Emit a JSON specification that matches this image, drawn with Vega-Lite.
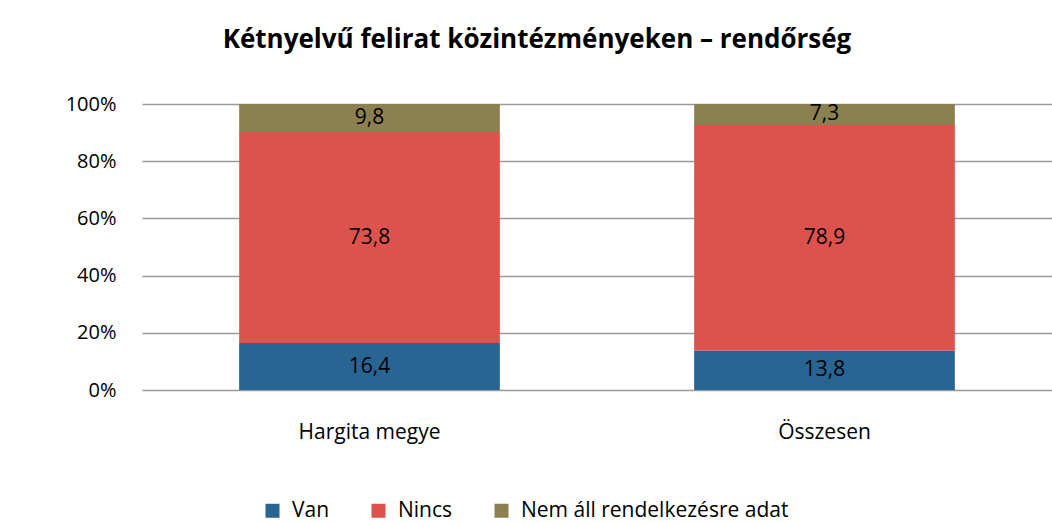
{
  "$schema": "https://vega.github.io/schema/vega-lite/v6.json",
  "width": 910,
  "height": 286,
  "autosize": {"type": "none"},
  "padding": {"left": 142, "top": 104, "right": 0, "bottom": 133},
  "background": "white",
  "config": {
    "font": "Open Sans",
    "view": {"stroke": null},
    "locale": {"number": {"decimal": ",", "thousands": " ", "grouping": [3], "currency": ["", ""]}}
  },
  "title": {
    "text": "Kétnyelvű felirat közintézményeken – rendőrség",
    "fontSize": 26,
    "fontWeight": "bold",
    "font": "Open Sans",
    "color": "black",
    "anchor": "middle",
    "dx": -60,
    "offset": 41
  },
  "data": {
    "values": [
      {"region": "Hargita megye", "category": "Van", "value": 16.4},
      {"region": "Hargita megye", "category": "Nincs", "value": 73.8},
      {"region": "Hargita megye", "category": "Nem áll rendelkezésre adat", "value": 9.8},
      {"region": "Összesen", "category": "Van", "value": 13.8},
      {"region": "Összesen", "category": "Nincs", "value": 78.9},
      {"region": "Összesen", "category": "Nem áll rendelkezésre adat", "value": 7.3}
    ]
  },
  "transform": [
    {"stack": "value", "groupby": ["region"], "sort": [{"field": "category", "order": "descending"}], "offset": "normalize", "as": ["y0", "y1"]},
    {"calculate": "(datum.y0 + datum.y1) / 2", "as": "ymid"}
  ],
  "encoding": {
    "x": {
      "field": "region",
      "type": "nominal",
      "sort": ["Hargita megye", "Összesen"],
      "scale": {"paddingInner": 0.427, "paddingOuter": 0.2135},
      "axis": {"title": null, "labelAngle": 0, "domain": false, "ticks": false, "labelPadding": 31, "labelFontSize": 21, "labelColor": "black", "labelFont": "Open Sans"}
    }
  },
  "layer": [
    {
      "mark": {"type": "bar"},
      "encoding": {
        "y": {
          "field": "y0",
          "type": "quantitative",
          "scale": {"domain": [0, 1]},
          "axis": {"title": null, "values": [0, 0.2, 0.4, 0.6, 0.8, 1], "format": ".0%", "grid": true, "gridColor": "#9a9a9a", "gridWidth": 1.5, "domain": false, "ticks": false, "labelPadding": 26, "labelFontSize": 20, "labelColor": "black", "labelFont": "Open Sans"}
        },
        "y2": {"field": "y1"},
        "color": {
          "field": "category",
          "type": "nominal",
          "scale": {"domain": ["Van", "Nincs", "Nem áll rendelkezésre adat"], "range": ["#286592", "#DE524E", "#8C8050"]},
          "legend": {"title": null, "orient": "none", "legendX": 120, "legendY": 396, "direction": "horizontal", "symbolType": "square", "symbolSize": 196, "symbolStrokeWidth": 0, "labelFontSize": 21, "labelColor": "black", "labelFont": "Open Sans", "labelLimit": 0, "columnPadding": 38, "labelOffset": 9}
        }
      }
    },
    {
      "mark": {"type": "text", "fontSize": 21, "color": "black", "font": "Open Sans", "baseline": "middle"},
      "encoding": {
        "y": {"field": "ymid", "type": "quantitative"},
        "text": {"field": "value", "type": "quantitative", "format": ".1f"}
      }
    }
  ]
}
